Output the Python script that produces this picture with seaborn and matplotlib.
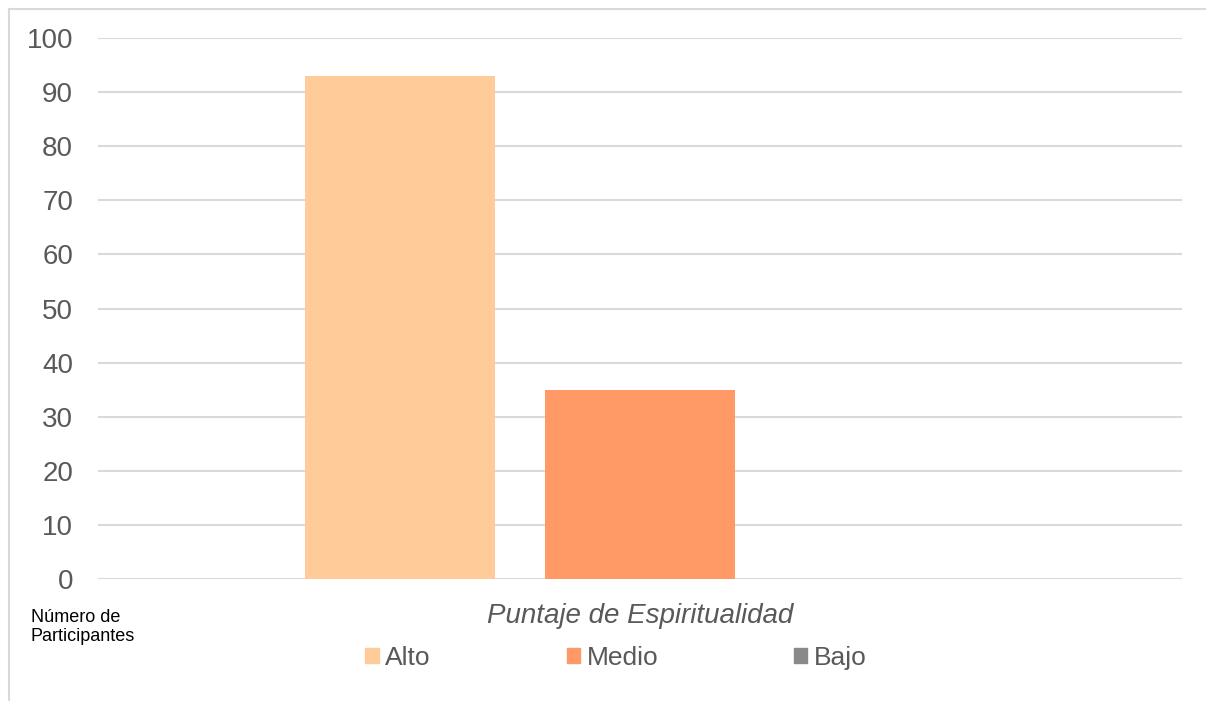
import matplotlib
matplotlib.use("Agg")
import matplotlib.pyplot as plt
from matplotlib.lines import Line2D
import seaborn as sns
import pandas as pd

# Participants by spirituality score level
niveles = ["Alto", "Medio", "Bajo"]
participantes = [93, 35, 0]
grupo = ["Puntaje de Espiritualidad"] * 3
colores = ["#FFCC99", "#FF9966", "#898989"]

df = pd.DataFrame({"grupo": grupo, "nivel": niveles, "n": participantes})

sns.set_theme(style="white")
plt.rcParams["font.family"] = ["Liberation Sans", "DejaVu Sans"]

fig = plt.figure(figsize=(12.06, 7.01), dpi=100)
ax = fig.add_axes([98 / 1206, 1 - 579 / 701, (1182 - 98) / 1206, (579 - 38) / 701])

sns.barplot(data=df, x="grupo", y="n", hue="nivel", hue_order=niveles,
            palette=colores, width=0.664, gap=0.208, saturation=1,
            linewidth=0, ax=ax, legend=False)

ax.set_ylim(0, 100)
ax.set_xlim(-0.5, 0.5)
ax.set_yticks(range(0, 101, 10))
ax.yaxis.grid(True, color="#D9D9D9", linewidth=1.5)
ax.set_axisbelow(True)
for s in ax.spines.values():
    s.set_visible(False)
ax.tick_params(axis="y", length=0, pad=18, labelsize=20, labelcolor="#595959")
ax.set_xticks([])
ax.set_xlabel("Puntaje de Espiritualidad", fontsize=20, style="italic",
              color="#595959", labelpad=17)
ax.set_ylabel("")

# Legend below the plot
handles = [plt.Rectangle((0, 0), 1, 1, color=c) for c in colores]
fig.legend(handles, niveles, loc="center", bbox_to_anchor=(616 / 1206, 1 - 658 / 701),
           ncol=3, frameon=False, fontsize=19, labelcolor="#595959",
           handlelength=0.5, handleheight=0.5, handletextpad=0.25,
           columnspacing=5.15)

fig.text(31 / 1206, 1 - 627 / 701, "Número de\nParticipantes", fontsize=13,
         color="#000000", va="center", ha="left", linespacing=1.15)

# Outer chart frame (top and left edges)
fig.add_artist(Line2D([9 / 1206, 1.0], [1 - 9 / 701, 1 - 9 / 701],
                      color="#D9D9D9", linewidth=1.5, transform=fig.transFigure))
fig.add_artist(Line2D([9 / 1206, 9 / 1206], [0.0, 1 - 9 / 701],
                      color="#D9D9D9", linewidth=1.5, transform=fig.transFigure))

fig.savefig("out.png", dpi=100, facecolor="white")
